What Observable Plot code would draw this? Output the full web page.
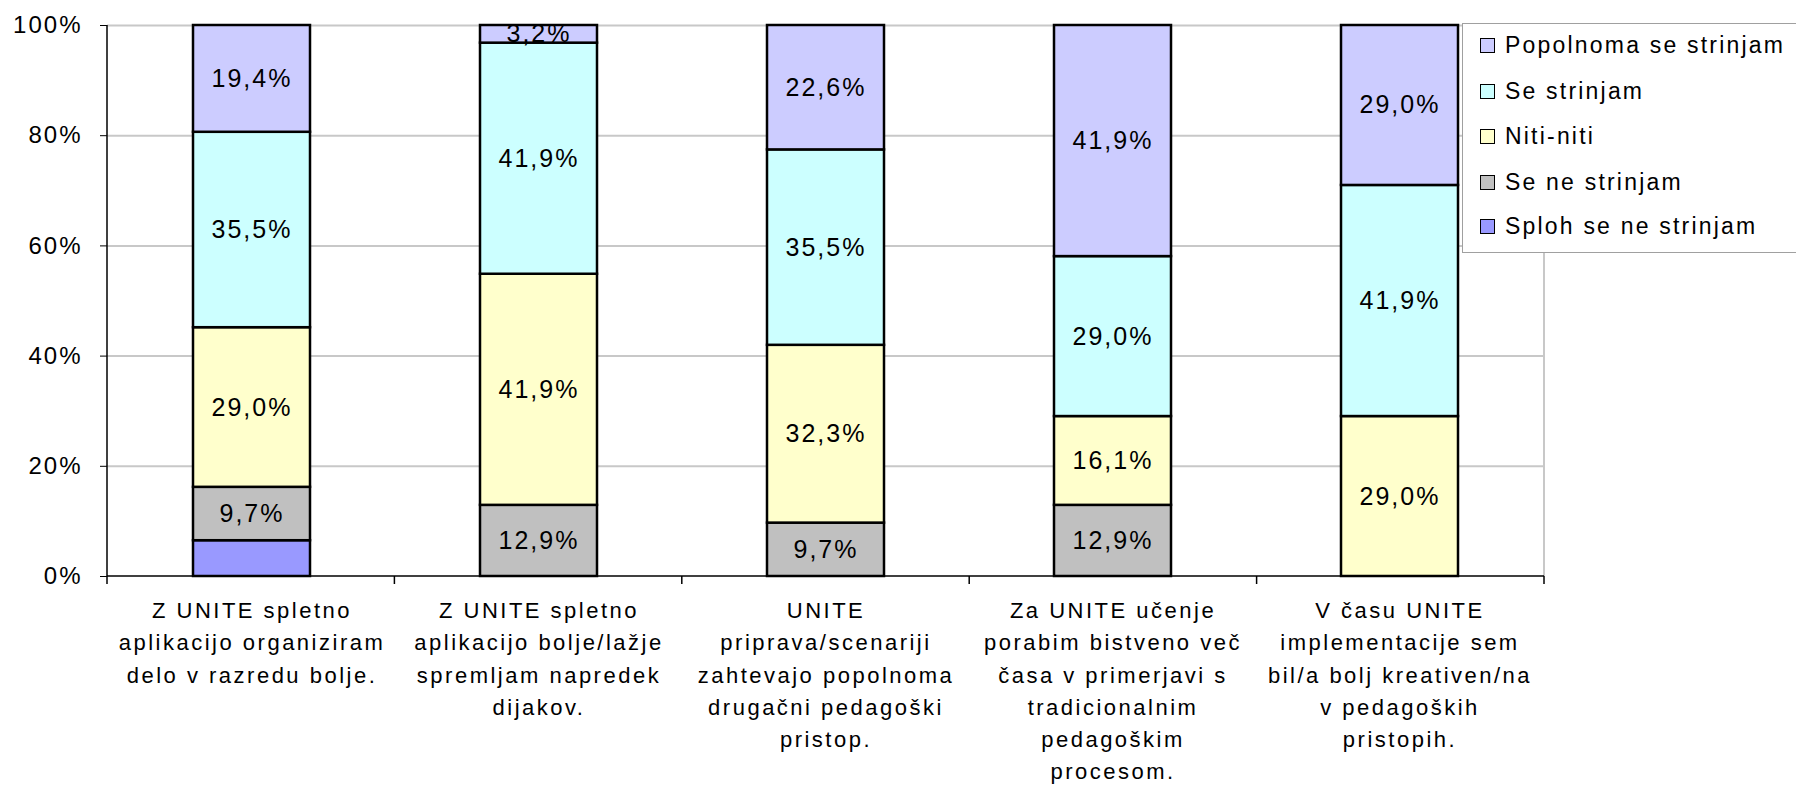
<!DOCTYPE html>
<html><head><meta charset="utf-8">
<script src="https://cdn.jsdelivr.net/npm/d3@7"></script>
<script src="https://cdn.jsdelivr.net/npm/@observablehq/plot@0.6"></script>
<style>
html,body{margin:0;padding:0;background:#fff;overflow:hidden;}
#wrap{position:relative;width:1796px;height:786px;overflow:hidden;font-family:"Liberation Sans",Arial,sans-serif;}
#wrap svg text{letter-spacing:2px;}
#wrap svg [aria-label="x-axis tick label"] text{letter-spacing:2.5px;}
#legend{position:absolute;left:1462px;top:23px;width:360px;height:230px;border:1.5px solid #a0a0a0;background:#fff;box-sizing:border-box;}
.item{position:absolute;left:17px;height:30px;display:flex;align-items:center;font-size:23px;letter-spacing:2.2px;color:#000;white-space:nowrap;}
.sw{width:13px;height:13px;border:1.5px solid #000;margin-right:10px;flex:none;}
</style></head>
<body><div id="wrap"></div>
<script>
const categories = [
  "Z UNITE spletno\naplikacijo organiziram\ndelo v razredu bolje.",
  "Z UNITE spletno\naplikacijo bolje/lažje\nspremljam napredek\ndijakov.",
  "UNITE\npriprava/scenariji\nzahtevajo popolnoma\ndrugačni pedagoški\npristop.",
  "Za UNITE učenje\nporabim bistveno več\nčasa v primerjavi s\ntradicionalnim\npedagoškim\nprocesom.",
  "V času UNITE\nimplementacije sem\nbil/a bolj kreativen/na\nv pedagoških\npristopih."
];
const series = ["Sploh se ne strinjam", "Se ne strinjam", "Niti-niti", "Se strinjam", "Popolnoma se strinjam"];
const colors = ["#9999ff", "#c0c0c0", "#ffffcc", "#ccffff", "#ccccff"];
const splohSeNeStrinjam   = [6.5, 0, 0, 0, 0];
const seNeStrinjam        = [9.7, 12.9, 9.7, 12.9, 0];
const nitiNiti            = [29.0, 41.9, 32.3, 16.1, 29.0];
const seStrinjam          = [35.5, 41.9, 35.5, 29.0, 41.9];
const popolnomaSeStrinjam = [19.4, 3.2, 22.6, 41.9, 29.0];
const yTicks = [0, 0.2, 0.4, 0.6, 0.8, 1];
const legendOrder = ["Popolnoma se strinjam", "Se strinjam", "Niti-niti", "Se ne strinjam", "Sploh se ne strinjam"];

const seriesValues = [splohSeNeStrinjam, seNeStrinjam, nitiNiti, seStrinjam, popolnomaSeStrinjam];
const rows = [];
series.forEach((s, i) => categories.forEach((c, j) => {
  if (seriesValues[i][j] > 0) rows.push({category: c, series: s, value: seriesValues[i][j]});
}));
const fmt = v => d3.format(".1f")(v).replace(".", ",") + "%";

function frameLines(index, scales, values, dims) {
  const {width, marginLeft, marginRight} = dims;
  const x0 = marginLeft, x1 = width - marginRight;
  const yTop = scales.y(1), yBot = scales.y(0);
  const g = d3.create("svg:g");
  g.append("line").attr("x1", x1).attr("x2", x1).attr("y1", yTop).attr("y2", yBot)
    .attr("stroke", "#c8c8c8").attr("stroke-width", 2);
  g.append("line").attr("x1", x0).attr("x2", x0).attr("y1", yTop).attr("y2", yBot)
    .attr("stroke", "#000").attr("stroke-width", 1.5);
  g.append("line").attr("x1", x0).attr("x2", x1).attr("y1", yBot).attr("y2", yBot)
    .attr("stroke", "#000").attr("stroke-width", 1.5);
  const n = categories.length, step = (x1 - x0) / n;
  for (let i = 0; i <= n; i++) {
    g.append("line").attr("x1", x0 + i * step).attr("x2", x0 + i * step)
      .attr("y1", yBot).attr("y2", yBot + 8).attr("stroke", "#000").attr("stroke-width", 1.5);
  }
  return g.node();
}

const stackOpts = {x: "category", y: "value", fill: "series", offset: "normalize"};

const chart = Plot.plot({
  width: 1796, height: 786,
  marginLeft: 107, marginRight: 252, marginTop: 25, marginBottom: 210,
  style: {fontFamily: "Liberation Sans, Arial, sans-serif", fontSize: "24px", color: "#000", background: "#fff"},
  x: {domain: categories, paddingInner: 0.593, paddingOuter: 0.2965, label: null},
  y: {domain: [0, 1], label: null},
  color: {domain: series, range: colors},
  marks: [
    Plot.ruleY(yTicks.filter(t => t > 0), {stroke: "#c8c8c8", strokeWidth: 2}),
    Plot.barY(rows, Plot.stackY({...stackOpts, stroke: "#000", strokeWidth: 2.5})),
    Plot.text(rows, Plot.stackY({...stackOpts,
      text: d => d.series === series[0] ? null : fmt(d.value),
      fontSize: 25, fill: "#000"})),
    frameLines,
    Plot.axisY({ticks: yTicks, tickFormat: d3.format(".0%"), tickSize: 7, tickPadding: 18, fontSize: 24, label: null}),
    Plot.axisX({tickSize: 0, tickPadding: 19, fontSize: 22, lineHeight: 1.46, label: null})
  ]
});
const wrap = document.getElementById("wrap");
wrap.appendChild(chart);

const legend = document.createElement("div");
legend.id = "legend";
const centers = [23, 69, 114, 160, 204];
legendOrder.forEach((s, i) => {
  const it = document.createElement("div");
  it.className = "item";
  it.style.top = (centers[i] - 15 - 1.5) + "px";
  const sw = document.createElement("div");
  sw.className = "sw";
  sw.style.background = colors[series.indexOf(s)];
  const t = document.createElement("span");
  t.textContent = s;
  it.appendChild(sw); it.appendChild(t);
  legend.appendChild(it);
});
wrap.appendChild(legend);
</script>
</body></html>
